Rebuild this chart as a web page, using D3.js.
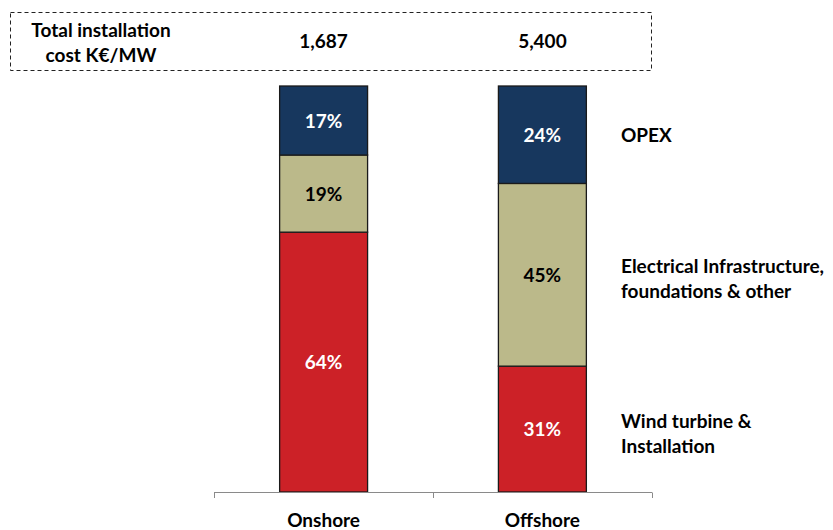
<!DOCTYPE html>
<html><head><meta charset="utf-8">
<script src="https://cdn.jsdelivr.net/npm/d3@7/dist/d3.min.js"></script>
<style>body{margin:0;background:#fff}svg{display:block;font-family:Lato,"Open Sans",sans-serif;font-weight:700}</style>
</head><body><svg id="c" width="833" height="530"></svg>
<script>
const categories = ["Onshore", "Offshore"];
const totals = ["1,687", "5,400"];
const seriesNames = ["Wind turbine & Installation", "Electrical Infrastructure, foundations & other", "OPEX"];
const windTurbine = [64, 31];
const electrical = [19, 45];
const opex = [17, 24];
const colors = ["#CC2127", "#BBB98A", "#17375E"];
const textColors = ["#fff", "#000", "#fff"];
const legendLines = [["Wind turbine &", "Installation"], ["Electrical Infrastructure,", "foundations & other"], ["OPEX"]];

const FS = 19;
const svg = d3.select("#c");
const data = categories.map((c, i) => ({cat: c, w: windTurbine[i], e: electrical[i], o: opex[i]}));
const stack = d3.stack().keys(["w", "e", "o"])(data);

const x = d3.scaleBand().domain(categories).range([214, 652]).paddingInner(0.598).paddingOuter(0.30);
const y = d3.scaleLinear().domain([0, 100]).range([492, 86]);

// dashed header box
svg.append("rect").attr("x", 10.5).attr("y", 12.5).attr("width", 641).attr("height", 58)
  .attr("fill", "none").attr("stroke", "#222").attr("stroke-width", 1).attr("stroke-dasharray", "4,3");
svg.append("text").attr("x", 101).attr("y", 37).attr("text-anchor", "middle").attr("font-size", FS).text("Total installation");
svg.append("text").attr("x", 101).attr("y", 62).attr("text-anchor", "middle").attr("font-size", FS).text("cost K€/MW");
svg.selectAll("text.tot").data(totals).enter().append("text").attr("class", "tot")
  .attr("x", (d, i) => x(categories[i]) + x.bandwidth() / 2).attr("y", 48)
  .attr("text-anchor", "middle").attr("font-size", FS).text(d => d);

// bars
stack.forEach((layer, li) => {
  const g = svg.append("g");
  g.selectAll("rect").data(layer).enter().append("rect")
    .attr("x", d => x(d.data.cat)).attr("width", x.bandwidth())
    .attr("y", d => y(d[1])).attr("height", d => y(d[0]) - y(d[1]))
    .attr("fill", colors[li]).attr("stroke", "#1a1a1a").attr("stroke-width", 1.3);
  g.selectAll("text").data(layer).enter().append("text")
    .attr("x", d => x(d.data.cat) + x.bandwidth() / 2)
    .attr("y", d => (y(d[0]) + y(d[1])) / 2 + 7)
    .attr("text-anchor", "middle").attr("font-size", FS).attr("fill", textColors[li])
    .text(d => (d[1] - d[0]) + "%");
});

// axis
const axis = d3.axisBottom(x).tickSize(0).tickFormat("");
const ag = svg.append("g").attr("transform", "translate(0,492.5)").call(axis);
ag.select(".domain").attr("stroke", "#8a8a8a").attr("d", "M214,0H652");
const tickXs = [214, 433, 652];
svg.append("g").selectAll("line").data(tickXs).enter().append("line")
  .attr("x1", d => d + 0.5).attr("x2", d => d + 0.5).attr("y1", 492.5).attr("y2", 498)
  .attr("stroke", "#8a8a8a");
svg.selectAll("text.cat").data(categories).enter().append("text").attr("class", "cat")
  .attr("x", d => x(d) + x.bandwidth() / 2).attr("y", 527)
  .attr("text-anchor", "middle").attr("font-size", FS).text(d => d);

// legend labels on right
stack.forEach((layer, li) => {
  const d = layer[1];
  const mid = (y(d[0]) + y(d[1])) / 2;
  const lines = legendLines[li];
  const lh = 25;
  const shift = lines.length > 1 ? 4 : 0;
  lines.forEach((t, k) => {
    svg.append("text").attr("x", 621).attr("y", mid + 7 + shift + (k - (lines.length - 1) / 2) * lh)
      .attr("font-size", FS).text(t);
  });
});
</script></body></html>
